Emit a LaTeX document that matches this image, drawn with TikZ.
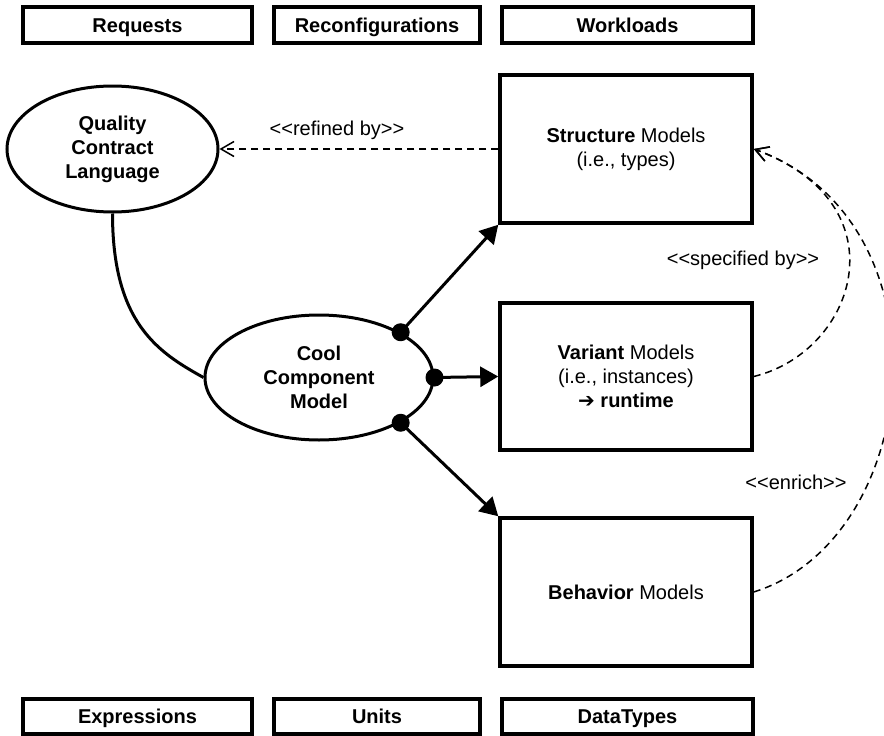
\documentclass[tikz,border=0pt]{standalone}
\usepackage{fontspec}
\setmainfont{Liberation Sans}
\newfontfamily\symfont{DejaVu Sans}
\usetikzlibrary{arrows.meta,shapes.geometric}
\begin{document}
\begin{tikzpicture}[x=1pt,y=-1pt,
  every node/.style={font=\fontsize{20}{24}\selectfont},
  tagbox/.style={draw,line width=3.3pt,minimum height=36pt,inner sep=0pt,
    text height=14.3pt,text depth=0pt,
    font=\fontsize{20}{24}\selectfont\bfseries},
  modelbox/.style={draw,line width=3.5pt,minimum width=252pt,minimum height=148pt,
    align=center,inner sep=0pt},
  bubble/.style={ellipse,draw,line width=3pt,align=center,inner sep=0pt,
    font=\fontsize{20}{24}\selectfont\bfseries},
  port/.style={circle,fill,minimum size=18pt,inner sep=0pt},
  compose/.style={line width=3pt,-{Triangle[length=18pt,width=20pt]}},
  relation/.style={line width=1.5pt,dash pattern=on 7pt off 5pt,
    -{Straight Barb[length=13pt,width=15pt]}},
  stereo/.style={font=\fontsize{20}{24}\selectfont}
]
\fill[white] (0,0) rectangle (884,736);
\useasboundingbox (0,0) rectangle (884,736);

% top row of language parts
\node[tagbox,minimum width=229pt] (requests) at (137.5,25) {Requests};
\node[tagbox,minimum width=206pt] (reconf) at (377,25) {Reconfigurations};
\node[tagbox,minimum width=251pt] (workloads) at (627.5,25) {Workloads};

% bottom row of language parts
\node[tagbox,minimum width=229pt,minimum height=35pt] (expressions) at (137.5,716.5) {Expressions};
\node[tagbox,minimum width=206pt,minimum height=35pt] (units) at (377,716.5) {Units};
\node[tagbox,minimum width=251pt,minimum height=35pt] (datatypes) at (627.5,716.5) {DataTypes};

% languages
\node[bubble,minimum width=211pt,minimum height=126pt] (qcl) at (112.5,149) {Quality\\Contract\\Language};
\node[bubble,minimum width=228pt,minimum height=125pt] (ccm) at (319,377.5) {Cool\\Component\\Model};

% model kinds
\node[modelbox] (structure) at (626,149) {\textbf{Structure} Models\\(i.e., types)};
\node[modelbox,minimum height=147pt] (variant) at (626,376.5)
  {\textbf{Variant} Models\\(i.e., instances)\\{\symfont ➔} \textbf{runtime}};
\node[modelbox] (behavior) at (626,592) {\textbf{Behavior} Models};

% ports on the component model
\coordinate (cUp) at (ccm.29);
\coordinate (cMid) at (ccm.east);
\coordinate (cLow) at (ccm.-29);

\draw[compose] (cUp) -- (structure.south west);
\draw[compose] (cMid) -- (variant.west);
\draw[compose] (cLow) -- (behavior.north west);

\node[port] (pUp) at (cUp) {};
\node[port] (pMid) at (cMid) {};
\node[port] (pLow) at (cLow) {};

% link between the two languages
\draw[line width=3pt] (qcl.south) .. controls +(0,110) and +(-45,-25) .. (ccm.west);

% stereotyped relations
\draw[relation] (structure.west) -- (qcl.east);
\node[stereo] (refinedlbl) at (337,130) {{<}{<}refined by{>}{>}};

\draw[relation] (variant.east) .. controls +(103,-25) and +(150,55) .. (structure.east);
\node[stereo] (specifiedlbl) at (743,260) {{<}{<}specified by{>}{>}};

\draw[relation] (behavior.east) .. controls +(170,-53) and +(200,72) .. (structure.east);
\node[stereo] (enrichlbl) at (796,482) {{<}{<}enrich{>}{>}};
\end{tikzpicture}
\end{document}
